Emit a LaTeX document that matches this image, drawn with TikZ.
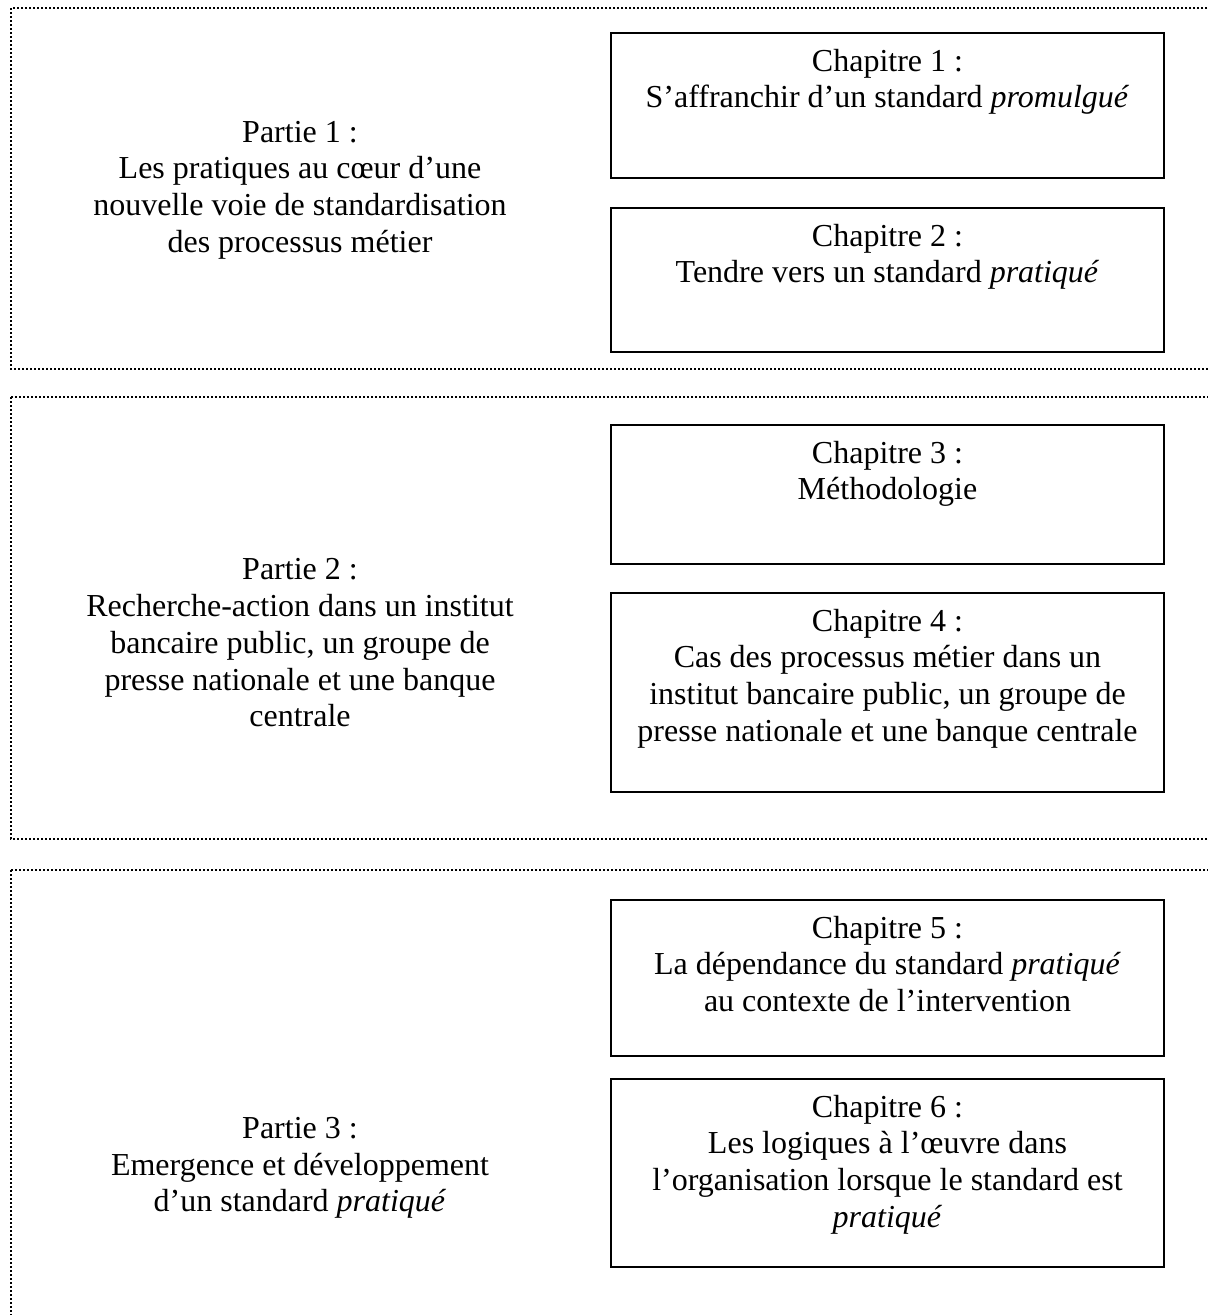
\documentclass[tikz,border=0pt]{standalone}
\usepackage{fontspec}
\setmainfont{Liberation Serif}
\usetikzlibrary{positioning}

\tikzstyle{frame}=[line width=0.8pt, dash pattern=on 0.8pt off 0.8pt]
\tikzstyle{chap}=[draw, line width=0.6pt, minimum width=221.2pt, inner sep=0pt]
\tikzstyle{chaptxt}=[align=center, inner sep=0pt, font=\fontsize{12.8}{14.7}\selectfont]
\tikzstyle{parttxt}=[align=center, inner sep=0pt, font=\fontsize{12.8}{14.7}\selectfont]

\begin{document}
\begin{tikzpicture}[x=0.4pt, y=-0.4pt]
            \clip (0,0) rectangle (1208,1315);
            % dotted frames, one per part
            \draw[frame] (11,8) rectangle (1240,369);
            \draw[frame] (11,397) rectangle (1240,839);
            \draw[frame] (11,870) rectangle (1240,1340);
            % parts
            \node[parttxt] (P1) at (300,190) {Partie 1 :\\Les pratiques au cœur d’une\\nouvelle voie de standardisation\\des processus métier};
            \node[parttxt] (P2) at (300,643) {Partie 2 :\\Recherche-action dans un institut\\bancaire public, un groupe de\\presse nationale et une banque\\centrale};
            \node[parttxt] (P3) at (300,1168) {Partie 3 :\\Emergence et développement\\d’un standard \emph{pratiqué}};
            % chapters
            \node[chap, minimum height=58pt] at (887.5,105.5) (C1) {};
            \node[chap, minimum height=57.6pt] at (887.5,280) (C2) {};
            \node[chap, minimum height=55.6pt] at (887.5,494.5) (C3) {};
            \node[chap, minimum height=79.6pt] at (887.5,692.5) (C4) {};
            \node[chap, minimum height=62.4pt] at (887.5,978) (C5) {};
            \node[chap, minimum height=75.2pt] at (887.5,1173) (C6) {};
            \node[chaptxt, below=6.5pt of C1.north] (T1) {Chapitre 1 :\\S’affranchir d’un standard \emph{promulgué}};
            \node[chaptxt, below=6.5pt of C2.north] (T2) {Chapitre 2 :\\Tendre vers un standard \emph{pratiqué}};
            \node[chaptxt, below=6.5pt of C3.north] (T3) {Chapitre 3 :\\Méthodologie};
            \node[chaptxt, below=6.5pt of C4.north] (T4) {Chapitre 4 :\\Cas des processus métier dans un\\institut bancaire public, un groupe de\\presse nationale et une banque centrale};
            \node[chaptxt, below=6.5pt of C5.north] (T5) {Chapitre 5 :\\La dépendance du standard \emph{pratiqué}\\au contexte de l’intervention};
            \node[chaptxt, below=6.5pt of C6.north] (T6) {Chapitre 6 :\\Les logiques à l’œuvre dans\\l’organisation lorsque le standard est\\\emph{pratiqué}};
        \end{tikzpicture}
\end{document}
